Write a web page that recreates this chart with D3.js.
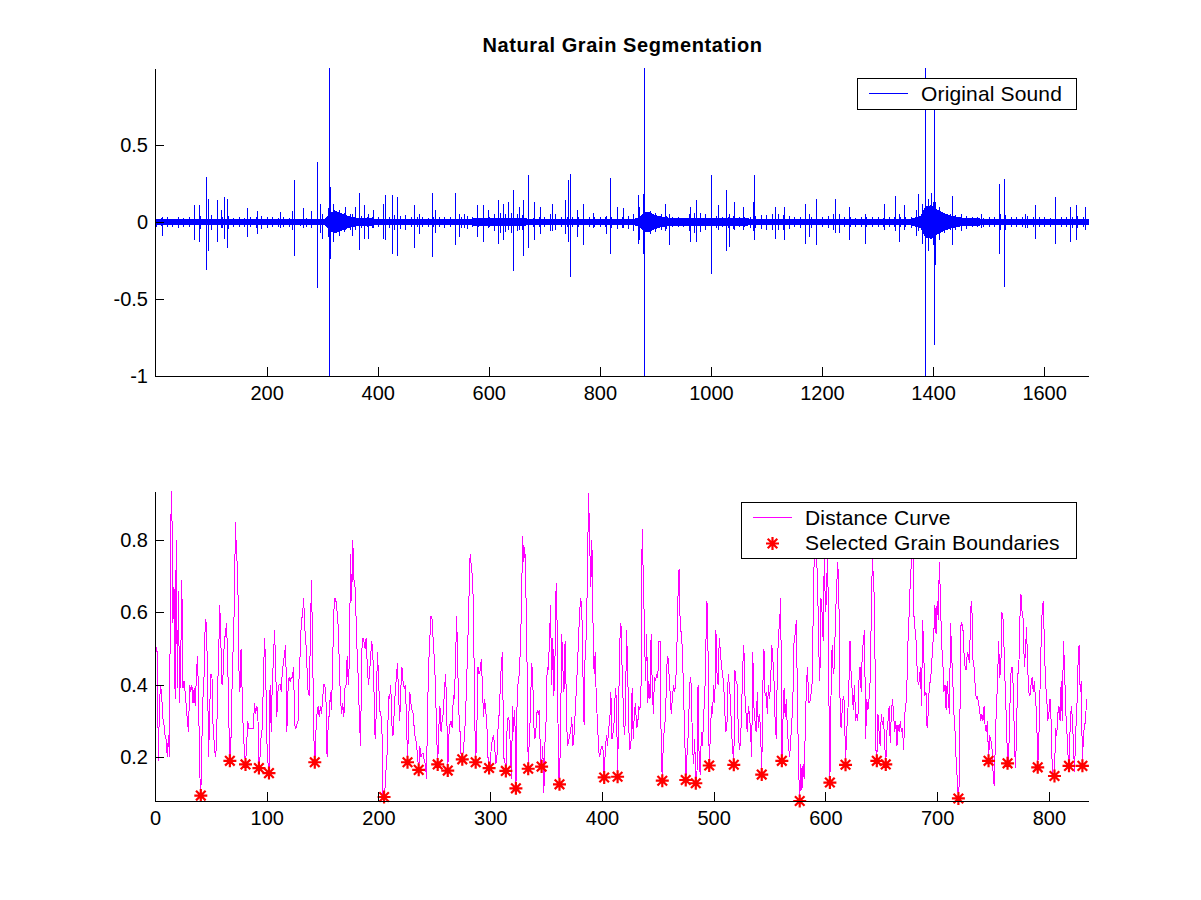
<!DOCTYPE html>
<html>
<head>
<meta charset="utf-8">
<script src="https://cdn.jsdelivr.net/npm/d3@7"></script>
<style>
  body { margin: 0; background: #ffffff; }
  svg text { font-family: "Liberation Sans", Arial, Helvetica, sans-serif; }
</style>
</head>
<body>
<svg id="chart" width="1201" height="900"></svg>
<script>
// ---------------- DATA ----------------
const titleText = "Natural Grain Segmentation";
const waveLegendLabel = "Original Sound";
const distLegendLabels = ["Distance Curve", "Selected Grain Boundaries"];

const waveXDomain = [-1, 1679];
const waveYDomain = [-1, 1];
const waveXTicks = [200, 400, 600, 800, 1000, 1200, 1400, 1600];
const waveYTicks = [-1, -0.5, 0, 0.5];

// dense core of the sound (half-width) at given sample positions
const coreX = [0, 120, 200, 290, 305, 312, 322, 335, 350, 370, 420, 560, 600, 640, 700, 760, 860, 872, 878, 888,
               900, 915, 960, 990, 1040, 1100, 1360, 1378, 1386, 1398, 1410, 1425, 1445, 1500, 1680];
const coreAmp = [.018,.022,.018,.018,.02,.05,.075,.055,.035,.025,.02,.022,.025,.025,.02,.022,.02,.03,.06,.065,
                 .045,.03,.025,.028,.025,.02,.02,.04,.1,.11,.075,.05,.03,.02,.018];

// outer extent of the small noise hairs, one value every bandStep samples
const bandStep = 10;
const bandHi = [
  .02,.025,.03,.02,.035,.025,.03,
  .035,.04,.03,.045,.04,.035,.04,
  .025,.03,.025,.03,.035,.04,.035,.03,.025,.03,.025,
  .025,.02,.025,.03,.03,.035,
  .09,.12,.08,
  .06,.05,.045,.04,
  .035,.03,.035,.03,.035,
  .045,.04,.045,
  .03,.03,.035,.025,.03,.03,.035,.03,.025,.035,.04,
  .03,.025,.03,.03,
  .05,.06,.055,.06,.05,.045,
  .03,.025,.03,.03,
  .055,.05,
  .03,.035,.03,.03,.035,.03,.035,.03,.03,
  .035,.04,.035,.04,.05,
  .1,.09,
  .07,.06,.05,.04,
  .03,.03,.025,
  .05,.06,.06,.05,
  .035,.04,.035,.035,.04,.035,.03,.035,.04,
  .045,.045,.05,.05,.045,.04,
  .035,.03,.035,.035,.03,.035,.04,
  .05,.045,
  .03,.03,.025,.03,.035,.03,.03,.025,.03,.035,.03,.03,.035,
  .08,.12,
  .15,.13,.1,
  .06,.05,.045,.045,.04,
  .03,.03,.025,.03,.03,
  .05,.045,
  .03,.03,.035,.04,.035,.03,.03,.025,.03,.03,.035,.035,.04,.035,.03
];
const bandLo = [
  -.03,-.025,-.035,-.03,-.04,-.03,-.035,
  -.04,-.045,-.04,-.05,-.045,-.04,-.045,
  -.03,-.035,-.03,-.03,-.04,-.045,-.04,-.035,-.03,-.03,-.03,
  -.03,-.025,-.03,-.03,-.035,-.04,
  -.1,-.13,-.09,
  -.065,-.055,-.05,-.04,
  -.035,-.04,-.035,-.035,-.04,
  -.05,-.045,-.05,
  -.035,-.03,-.035,-.03,-.035,-.035,-.04,-.03,-.035,-.04,-.045,
  -.03,-.03,-.025,-.03,
  -.06,-.07,-.065,-.07,-.06,-.05,
  -.03,-.03,-.03,-.035,
  -.06,-.055,
  -.035,-.035,-.03,-.035,-.04,-.035,-.035,-.03,-.035,
  -.04,-.045,-.04,-.045,-.06,
  -.12,-.1,
  -.075,-.065,-.05,-.045,
  -.03,-.035,-.03,
  -.06,-.07,-.065,-.05,
  -.04,-.04,-.035,-.04,-.045,-.035,-.035,-.04,-.04,
  -.045,-.05,-.05,-.055,-.05,-.045,
  -.035,-.04,-.035,-.04,-.035,-.035,-.04,
  -.05,-.05,
  -.03,-.035,-.03,-.03,-.035,-.03,-.035,-.03,-.03,-.035,-.03,-.035,-.04,
  -.09,-.14,
  -.17,-.15,-.12,
  -.07,-.055,-.05,-.045,-.045,
  -.03,-.03,-.03,-.035,-.03,
  -.05,-.05,
  -.03,-.035,-.035,-.04,-.035,-.03,-.03,-.03,-.035,-.03,-.035,-.04,-.04,-.035,-.03
];

// individual clicks of the sound: sample position, peak, trough
const spikeX = [
  12,70,78,90,95,111,117,124,129,165,182,224,245,250,266,279,291,297,300,313,315,342,353,360,367,376,383,392,
  410,413,425,435,466,474,497,504,540,547,556,
  578,589,599,617,625,634,644,655,662,670,681,692,713,738,743,747,758,769,788,811,819,830,842,868,869,877,879,
  918,925,963,974,1001,1013,1028,1033,1042,1058,1075,1078,1116,
  1132,1170,1177,1190,1224,1231,1249,1278,1312,1332,1338,1347,1372,1385,1386,1390,1397,1401,1403,1435,1451,
  1487,1518,1527,1566,1584,1620,1647,1658,1674
];
const spikeHi = [
  .03,.11,.11,.29,.15,.14,.08,.16,.15,.09,.07,.065,.07,.27,.09,.07,.39,.12,.05,1.2,.23,.10,.05,.10,.19,.11,.05,.08,
  .12,.175,.175,.16,.11,.05,.19,.08,.19,.05,.05,
  .11,.11,.08,.14,.12,.13,.21,.10,.14,.305,.13,.10,.12,.14,.27,.31,.08,.12,.06,.04,.285,.10,.09,.15,.175,.18,1.2,
  .12,.05,.10,.14,.305,.11,.21,.05,.13,.10,.13,.305,.10,
  .10,.12,.05,.15,.15,.05,.10,.05,.12,.17,.05,.11,.18,1.2,.28,.10,.19,.73,.13,.17,.05,
  .05,.245,.28,.05,.11,.16,.10,.11,.10
];
const spikeLo = [
  -.09,-.12,-.13,-.31,-.19,-.13,-.04,-.11,-.17,-.10,-.08,-.04,-.05,-.22,-.04,-.04,-.43,-.07,-.11,-1.2,-.24,-.05,-.09,-.05,-.18,-.11,-.11,-.04,
  -.11,-.115,-.21,-.22,-.17,-.08,-.23,-.07,-.15,-.10,-.04,
  -.10,-.13,-.04,-.14,-.12,-.05,-.32,-.05,-.22,-.17,-.12,-.08,-.06,-.08,-.13,-.355,-.10,-.15,-.04,-.08,-.205,-.04,-.04,-.14,-.10,-.21,-1.2,
  -.06,-.15,-.13,-.13,-.335,-.05,-.19,-.16,-.05,-.05,-.06,-.115,-.11,
  -.12,-.14,-.095,-.15,-.07,-.07,-.12,-.14,-.05,-.06,-.13,-.05,-.06,-1.2,-.32,-.19,-.10,-.80,-.28,-.15,-.06,
  -.04,-.21,-.42,-.04,-.11,-.14,-.13,-.12,-.05
];

const distXDomain = [0, 835];
const distXTicks = [0, 100, 200, 300, 400, 500, 600, 700, 800];
const distYTicks = [0.2, 0.4, 0.6, 0.8];

// distance curve, one value per frame (index 0..834)
const distCurve = [
  .56,.50,.49,.19,.35,.40,.37,.31,.29,.26,
  .25,.20,.26,.20,.84,.935,.57,.67,.36,.80,
  .39,.66,.35,.46,.69,.39,.41,.38,.34,.30,
  .27,.40,.38,.40,.35,.39,.34,.42,.48,.37,
  .16,.094,.25,.37,.43,.58,.57,.43,.20,.34,
  .43,.42,.28,.24,.20,.23,.38,.49,.62,.51,
  .40,.43,.52,.54,.57,.48,.31,.19,.25,.40,
  .51,.62,.85,.75,.73,.45,.38,.50,.38,.27,
  .22,.18,.23,.30,.28,.28,.28,.28,.28,.35,
  .32,.34,.33,.17,.20,.26,.28,.41,.53,.46,
  .25,.19,.156,.40,.27,.41,.47,.55,.45,.31,
  .38,.40,.40,.38,.44,.46,.49,.51,.27,.38,
  .42,.41,.42,.42,.45,.29,.28,.29,.30,.43,
  .49,.58,.59,.64,.56,.52,.45,.38,.37,.52,
  .69,.52,.27,.186,.27,.32,.34,.31,.34,.32,
  .36,.40,.40,.36,.20,.29,.32,.38,.33,.46,
  .60,.64,.63,.60,.56,.45,.36,.32,.35,.31,
  .39,.40,.48,.40,.47,.76,.63,.80,.69,.67,
  .58,.48,.41,.30,.23,.49,.53,.52,.50,.53,
  .45,.40,.43,.48,.52,.48,.38,.25,.32,.49,
  .43,.33,.32,.30,.10,.09,.12,.18,.22,.37,
  .36,.40,.29,.26,.32,.38,.42,.46,.37,.30,
  .39,.45,.41,.39,.40,.32,.186,.30,.38,.35,
  .33,.32,.28,.25,.24,.20,.165,.23,.20,.21,
  .21,.19,.18,.14,.34,.46,.53,.59,.58,.52,
  .47,.40,.27,.18,.28,.34,.27,.30,.32,.38,
  .43,.35,.163,.26,.29,.30,.28,.37,.36,.47,
  .59,.44,.32,.27,.20,.194,.22,.26,.32,.42,
  .52,.64,.76,.73,.70,.62,.33,.186,.27,.45,
  .43,.44,.47,.40,.31,.36,.33,.29,.20,.17,
  .18,.23,.25,.26,.23,.18,.20,.28,.32,.39,
  .46,.49,.20,.19,.162,.27,.31,.30,.23,.14,
  .34,.27,.33,.114,.34,.41,.43,.50,.62,.81,
  .74,.78,.65,.45,.168,.25,.32,.46,.43,.29,
  .25,.28,.33,.32,.33,.19,.174,.23,.10,.24,
  .30,.45,.44,.52,.62,.40,.53,.37,.48,.68,
  .55,.17,.125,.28,.54,.45,.38,.52,.38,.23,
  .24,.26,.27,.31,.23,.26,.32,.38,.45,.52,
  .60,.64,.61,.43,.29,.50,.53,.70,.93,.80,
  .67,.80,.57,.43,.49,.35,.30,.22,.20,.22,
  .23,.22,.144,.22,.26,.23,.28,.30,.38,.25,
  .27,.30,.39,.36,.146,.35,.52,.57,.45,.35,
  .26,.30,.55,.45,.28,.22,.24,.39,.25,.32,
  .35,.28,.29,.34,.33,.40,.83,.70,.56,.41,
  .54,.35,.41,.36,.54,.40,.32,.42,.41,.43,
  .42,.52,.52,.24,.135,.25,.28,.32,.45,.48,
  .43,.38,.32,.36,.40,.38,.40,.49,.64,.72,
  .57,.54,.50,.38,.27,.137,.20,.25,.34,.42,
  .40,.23,.18,.25,.128,.14,.40,.19,.15,.27,
  .23,.32,.36,.51,.63,.48,.177,.26,.34,.32,
  .40,.35,.55,.43,.40,.53,.49,.45,.43,.40,
  .32,.27,.30,.43,.40,.36,.27,.22,.179,.44,
  .41,.40,.28,.22,.24,.33,.45,.51,.37,.32,
  .27,.34,.32,.27,.20,.49,.34,.30,.27,.38,
  .28,.32,.27,.152,.40,.50,.37,.38,.32,.40,
  .36,.41,.51,.47,.41,.30,.25,.45,.54,.57,
  .64,.19,.30,.39,.31,.36,.27,.23,.20,.25,
  .30,.38,.53,.54,.58,.35,.17,.079,.18,.11,
  .18,.14,.28,.40,.45,.35,.35,.37,.40,.58,
  .76,.86,.75,.69,.50,.41,.64,.60,.52,.76,
  .60,.64,.80,.40,.13,.37,.51,.43,.45,.59,
  .66,.74,.66,.37,.28,.33,.37,.35,.179,.27,
  .32,.40,.52,.43,.38,.33,.40,.30,.32,.30,
  .41,.45,.38,.49,.52,.55,.25,.36,.33,.36,
  .41,.58,.75,.69,.62,.23,.19,.32,.27,.23,
  .32,.29,.31,.24,.18,.27,.30,.34,.24,.32,
  .36,.32,.27,.30,.23,.29,.27,.30,.27,.28,
  .22,.32,.34,.41,.53,.60,.69,.74,.85,.60,
  .56,.53,.45,.40,.41,.45,.34,.58,.49,.37,
  .38,.28,.32,.40,.41,.45,.51,.54,.62,.54,
  .63,.58,.74,.63,.51,.47,.38,.40,.33,.41,
  .36,.32,.57,.48,.41,.32,.27,.19,.14,.086,
  .14,.56,.57,.56,.49,.45,.44,.49,.48,.46,
  .61,.63,.47,.45,.40,.36,.37,.35,.33,.30,
  .32,.30,.34,.28,.27,.30,.19,.26,.25,.23,
  .16,.12,.23,.34,.40,.52,.42,.45,.60,.58,
  .49,.38,.30,.183,.20,.33,.43,.45,.40,.27,
  .17,.25,.43,.43,.58,.65,.60,.58,.45,.49,
  .56,.45,.38,.37,.40,.42,.38,.41,.36,.32,
  .172,.25,.38,.51,.61,.63,.51,.40,.37,.30,
  .32,.36,.30,.17,.15,.148,.28,.26,.32,.34,
  .30,.41,.30,.52,.45,.33,.28,.21,.176,.28,
  .34,.31,.23,.16,.27,.33,.45,.51,.38,.41,
  .176,.27,.28,.32,.36
];

// frames selected as grain boundaries (indices into distCurve)
const boundaryIdx = [
  41,67,81,93,102,143,205,226,236,253,262,275,287,299,314,323,334,346,362,402,
  414,454,475,484,496,518,543,561,577,604,618,646,654,719,746,763,790,805,818,830
];

// ---------------- DRAWING ----------------
const FONT = '"Liberation Sans", Arial, Helvetica, sans-serif';
const svg = d3.select("#chart");
const left = 155, right = 1088;
const topBox = { top: 68, bottom: 376 };
const botBox = { top: 491, bottom: 801 };
const tickLen = 9;

const xW = d3.scaleLinear().domain(waveXDomain).range([left, right]);
const yW = d3.scaleLinear().domain(waveYDomain).range([topBox.bottom, topBox.top]);
const xD = d3.scaleLinear().domain(distXDomain).range([left, right]);
const yD = d3.scaleLinear().domain(d3.extent(distCurve)).range([botBox.bottom, botBox.top]);

const defs = svg.append("defs");
defs.append("clipPath").attr("id", "clipTop").append("rect")
  .attr("x", left).attr("y", topBox.top).attr("width", right - left + 1).attr("height", topBox.bottom - topBox.top + 1);
defs.append("clipPath").attr("id", "clipBot").append("rect")
  .attr("x", left).attr("y", botBox.top).attr("width", right - left + 1).attr("height", botBox.bottom - botBox.top + 1);

// ---- top panel: waveform
const gWave = svg.append("g").attr("clip-path", "url(#clipTop)");
const core = coreAmp.map((a, i) => ({ x: coreX[i], a }));
gWave.append("path")
  .datum(core)
  .attr("d", d3.area().x(d => xW(d.x)).y0(d => yW(-d.a)).y1(d => yW(d.a)))
  .attr("fill", "#0000ff")
  .attr("shape-rendering", "crispEdges");
const hairs = bandHi.map((h, i) => ({ x: i * bandStep, hi: h, lo: bandLo[i] }));
gWave.selectAll("line.hair")
  .data(hairs)
  .join("line")
  .attr("class", "hair")
  .attr("x1", d => Math.round(xW(d.x)) + 0.5)
  .attr("x2", d => Math.round(xW(d.x)) + 0.5)
  .attr("y1", d => yW(d.hi))
  .attr("y2", d => yW(d.lo))
  .attr("stroke", "#0000ff")
  .attr("stroke-width", 1)
  .attr("shape-rendering", "crispEdges");
gWave.selectAll("line.spike")
  .data(spikeX)
  .join("line")
  .attr("class", "spike")
  .attr("x1", d => Math.round(xW(d)) + 0.5)
  .attr("x2", d => Math.round(xW(d)) + 0.5)
  .attr("y1", (d, i) => yW(spikeHi[i]))
  .attr("y2", (d, i) => yW(spikeLo[i]))
  .attr("stroke", "#0000ff")
  .attr("stroke-width", 1)
  .attr("shape-rendering", "crispEdges");

// ---- bottom panel: distance curve
const gDist = svg.append("g").attr("clip-path", "url(#clipBot)");
gDist.append("path")
  .datum(distCurve)
  .attr("d", d3.line().x((d, i) => xD(i)).y(d => yD(d)))
  .attr("fill", "none")
  .attr("stroke", "#ff00ff")
  .attr("stroke-width", 1)
  .attr("shape-rendering", "crispEdges");

const starPath = "M-6.5,0H6.5M0,-6.5V6.5M-4.8,-4.8L4.8,4.8M-4.8,4.8L4.8,-4.8";
svg.append("g").selectAll("path.star")
  .data(boundaryIdx)
  .join("path")
  .attr("class", "star")
  .attr("transform", d => `translate(${xD(d)},${yD(distCurve[d])})`)
  .attr("d", starPath)
  .attr("fill", "none")
  .attr("stroke", "#ff0000")
  .attr("stroke-width", 2.2);

// ---- axes
function styleAxis(g) {
  g.attr("font-size", 20).attr("font-family", FONT);
  g.selectAll("path.domain").attr("stroke", "#000").attr("shape-rendering", "crispEdges");
  g.selectAll(".tick line").attr("stroke", "#000").attr("shape-rendering", "crispEdges");
  g.selectAll(".tick text").attr("fill", "#000");
}
function drawAxes(x, y, box, xTicks, yTicks) {
  svg.append("g")
    .attr("transform", `translate(0,${box.bottom})`)
    .call(d3.axisBottom(x).tickValues(xTicks).tickSize(-tickLen).tickSizeOuter(0).tickPadding(10).tickFormat(d => String(d)))
    .call(styleAxis);
  svg.append("g")
    .attr("transform", `translate(${left},0)`)
    .call(d3.axisLeft(y).tickValues(yTicks).tickSize(-tickLen).tickSizeOuter(0).tickPadding(7).tickFormat(d => String(d)))
    .call(styleAxis);
}
drawAxes(xW, yW, topBox, waveXTicks, waveYTicks);
drawAxes(xD, yD, botBox, distXTicks, distYTicks);

// ---- title
svg.append("text")
  .attr("x", (left + right) / 2 + 1)
  .attr("y", 52)
  .attr("text-anchor", "middle")
  .attr("font-size", 20)
  .attr("font-weight", "bold")
  .attr("letter-spacing", 0.6)
  .attr("fill", "#000")
  .text(titleText);

// ---- legends
const lgTop = svg.append("g");
lgTop.append("rect").attr("x", 857.5).attr("y", 78.5).attr("width", 219).attr("height", 31)
  .attr("fill", "#fff").attr("stroke", "#000").attr("stroke-width", 1).attr("shape-rendering", "crispEdges");
lgTop.append("line").attr("x1", 869).attr("x2", 908).attr("y1", 93.5).attr("y2", 93.5)
  .attr("stroke", "#0000ff").attr("stroke-width", 1).attr("shape-rendering", "crispEdges");
lgTop.append("text").attr("x", 921).attr("y", 100.5).attr("font-size", 21).attr("letter-spacing", 0.15)
  .attr("fill", "#000").text(waveLegendLabel);

const lgBot = svg.append("g");
lgBot.append("rect").attr("x", 741.5).attr("y", 502.5).attr("width", 335).attr("height", 56)
  .attr("fill", "#fff").attr("stroke", "#000").attr("stroke-width", 1).attr("shape-rendering", "crispEdges");
lgBot.append("line").attr("x1", 753).attr("x2", 792).attr("y1", 517.5).attr("y2", 517.5)
  .attr("stroke", "#ff00ff").attr("stroke-width", 1).attr("shape-rendering", "crispEdges");
lgBot.append("path").attr("transform", "translate(772.5,543.5)").attr("d", starPath)
  .attr("fill", "none").attr("stroke", "#ff0000").attr("stroke-width", 2.2);
lgBot.append("text").attr("x", 805).attr("y", 525).attr("font-size", 21).attr("letter-spacing", 0.15)
  .attr("fill", "#000").text(distLegendLabels[0]);
lgBot.append("text").attr("x", 805).attr("y", 550).attr("font-size", 21).attr("letter-spacing", 0.15)
  .attr("fill", "#000").text(distLegendLabels[1]);
</script>
</body>
</html>
